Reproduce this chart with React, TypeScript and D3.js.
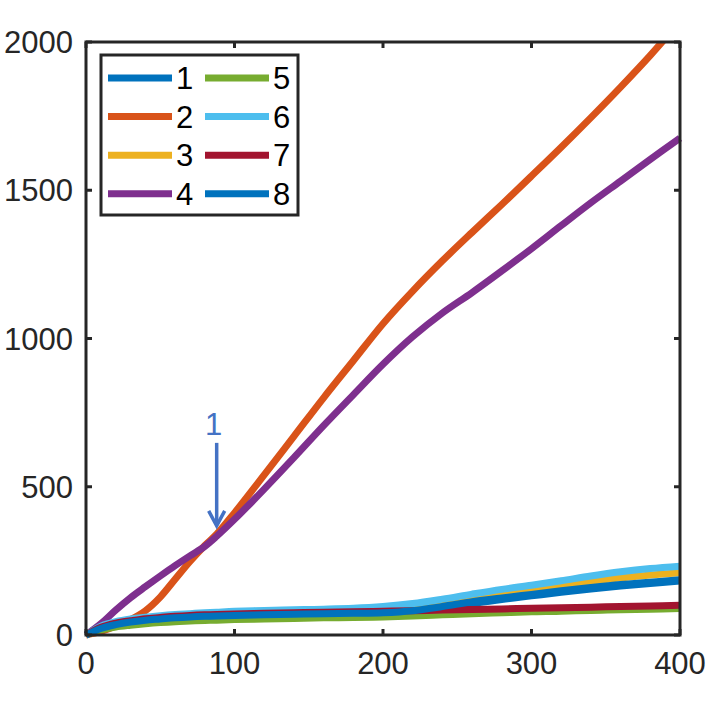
import * as d3 from "d3";
import React from "react";

const xs = [0, 10, 20, 30, 40, 50, 60, 70, 80, 88, 100, 120, 140, 160, 180, 200, 220, 240, 260, 280, 300, 320, 340, 360, 380, 400];

const s1 = [0, 21, 33, 42, 48, 52, 56, 59, 61, 62, 64, 66, 68, 69, 70, 72, 78, 91, 106, 120, 132, 144, 155, 165, 174, 182];
const s2 = [0, 12, 30, 52, 82, 128, 188, 248, 302, 340, 412, 540, 670, 800, 925, 1050, 1160, 1262, 1358, 1452, 1548, 1645, 1745, 1848, 1955, 2070];
const s3 = [0, 27, 40, 48, 54, 58, 62, 65, 68, 69, 71, 73, 75, 77, 79, 82, 88, 101, 118, 134, 149, 165, 180, 193, 202, 210];
const s4 = [0, 38, 84, 126, 163, 199, 234, 267, 299, 333, 390, 492, 598, 706, 810, 913, 1006, 1086, 1155, 1228, 1303, 1381, 1458, 1531, 1604, 1676];
const s5 = [0, 17, 27, 33, 38, 42, 45, 47, 49, 50, 52, 54, 56, 58, 59, 61, 64, 68, 72, 75, 78, 80, 83, 85, 87, 89];
const s6 = [0, 30, 45, 54, 60, 65, 69, 72, 75, 77, 80, 83, 85, 87, 90, 96, 106, 121, 138, 154, 168, 183, 199, 213, 224, 232];
const s7 = [0, 26, 40, 48, 55, 59, 63, 66, 68, 69, 71, 73, 75, 77, 78, 80, 82, 84, 86, 88, 90, 92, 94, 96, 98, 100];
const s8 = [0, 22, 35, 44, 50, 54, 58, 61, 63, 64, 66, 68, 70, 72, 73, 75, 82, 96, 112, 125, 137, 149, 160, 170, 178, 186];

const seriesValues = [s1, s2, s3, s4, s5, s6, s7, s8];
const seriesLabels = ["1", "2", "3", "4", "5", "6", "7", "8"];
const seriesColors = ["#0072BD", "#D95319", "#EDB120", "#7E2F8E", "#77AC30", "#4DBEEE", "#A2142F", "#0072BD"];

const xTicks = [0, 100, 200, 300, 400];
const yTicks = [0, 500, 1000, 1500, 2000];

// arrow annotation "1"
const noteX = 88;
const noteText = "1";
const noteTextY = 675;
const noteStartY = 648;
const noteTipY = 368;

const W = 709;
const H = 709;
const left = 86;
const right = 680;
const top = 42;
const bottom = 635;
const font = "'Liberation Sans', Arial, Helvetica, sans-serif";
const axisColor = "#262626";

export default function App() {
  const x = d3.scaleLinear([0, 400], [left, right]);
  const y = d3.scaleLinear([0, 2000], [bottom, top]);
  const line = d3
    .line<number>()
    .x((d, i) => x(xs[i]))
    .y((d) => y(d))
    .curve(d3.curveCatmullRom.alpha(0.5));

  const ax = x(noteX);
  const tip = y(noteTipY);

  return (
    <svg width={W} height={H} style={{ position: "absolute", left: 0, top: 0, background: "#fff" }}>
      <defs>
        <clipPath id="plotclip">
          <rect x={left - 10} y={top} width={right - left + 20} height={bottom - top + 10} />
        </clipPath>
      </defs>
      <rect x={0} y={0} width={W} height={H} fill="#fff" />

      <g clipPath="url(#plotclip)">
        {seriesValues.map((vals, i) => (
          <path
            key={i}
            d={line(vals) ?? undefined}
            fill="none"
            stroke={seriesColors[i]}
            strokeWidth={7}
            strokeLinejoin="round"
          />
        ))}
      </g>

      {/* axes box */}
      <rect x={left} y={top} width={right - left} height={bottom - top} fill="none" stroke={axisColor} strokeWidth={3} />
      {xTicks.map((t) => (
        <g key={"x" + t}>
          <line x1={x(t)} x2={x(t)} y1={bottom} y2={bottom - 6} stroke={axisColor} strokeWidth={3} />
          <line x1={x(t)} x2={x(t)} y1={top} y2={top + 6} stroke={axisColor} strokeWidth={3} />
          <text x={x(t)} y={bottom + 39} textAnchor="middle" fontFamily={font} fontSize={31} fill={axisColor}>
            {t}
          </text>
        </g>
      ))}
      {yTicks.map((t) => (
        <g key={"y" + t}>
          <line x1={left} x2={left + 6} y1={y(t)} y2={y(t)} stroke={axisColor} strokeWidth={3} />
          <line x1={right} x2={right - 6} y1={y(t)} y2={y(t)} stroke={axisColor} strokeWidth={3} />
          <text x={left - 13} y={y(t) + 11} textAnchor="end" fontFamily={font} fontSize={31} fill={axisColor}>
            {t}
          </text>
        </g>
      ))}

      {/* annotation */}
      <text x={ax - 3} y={y(noteTextY)} textAnchor="middle" fontFamily={font} fontSize={31} fill="#4472C4">
        {noteText}
      </text>
      <line x1={ax} x2={ax} y1={y(noteStartY)} y2={tip - 2} stroke="#4472C4" strokeWidth={3.5} />
      <polyline
        points={`${ax - 8},${tip - 15} ${ax},${tip} ${ax + 8},${tip - 15}`}
        fill="none"
        stroke="#4472C4"
        strokeWidth={3.5}
      />

      {/* legend */}
      <g>
        <rect x={101} y={55} width={197} height={160} fill="#fff" stroke={axisColor} strokeWidth={3} />
        {seriesLabels.map((lab, i) => {
          const col = Math.floor(i / 4);
          const row = i % 4;
          const lx = 108 + col * 97;
          const ly = 78 + row * 38.6;
          return (
            <g key={lab}>
              <line x1={lx} x2={lx + 64} y1={ly} y2={ly} stroke={seriesColors[i]} strokeWidth={7} />
              <text x={lx + 68} y={ly + 11} fontFamily={font} fontSize={31} fill="#000">
                {lab}
              </text>
            </g>
          );
        })}
      </g>
    </svg>
  );
}
